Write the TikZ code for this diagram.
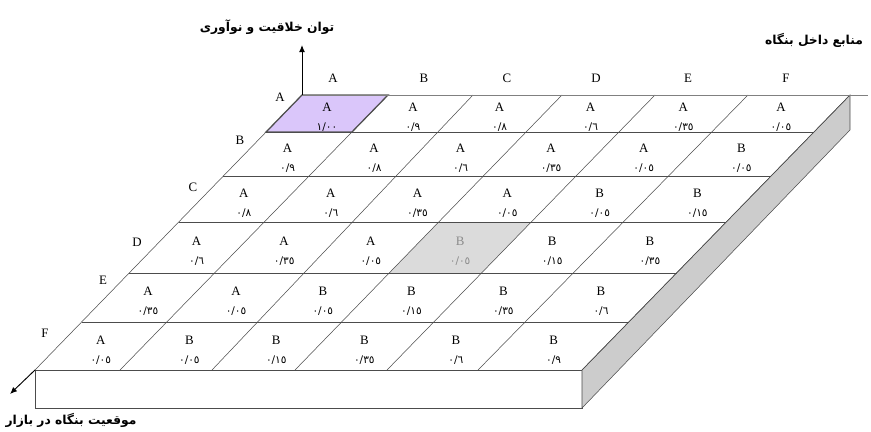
\documentclass[tikz,border=0pt]{standalone}
\usepackage{fontspec}
\setmainfont{Liberation Serif}
\newfontfamily\arabicfont[Script=Arabic]{DejaVu Sans}
\TeXXeTstate=1
\usetikzlibrary{calc,arrows.meta}
\definecolor{lilac}{RGB}{218,198,250}

\begin{document}
\begin{tikzpicture}[x=0.3mm,y=-0.3mm,
  edge/.style={draw=black!70,line width=0.45pt},
  hdr/.style={font=\fontsize{11}{12}\selectfont},
  val/.style={font=\arabicfont\fontsize{9}{10}\selectfont},
  axislbl/.style={font=\arabicfont\bfseries\fontsize{10.5}{12}\selectfont}]
\useasboundingbox (0,0) rectangle (871,431);
\def\topx{{302,388,473,562,655,748,850}}
\def\botx{{35,120,212,295,387,478,582}}
\def\rowy{{95,132,176,222,273,322,370}}
% column lines, top and bottom ends
\foreach \i in {0,...,6} {
  \pgfmathsetmacro\xt{\topx[\i]}
  \pgfmathsetmacro\xb{\botx[\i]}
  \coordinate (t\i) at (\xt,95);
  \coordinate (b\i) at (\xb,370);
}
% grid corners
\foreach \j in {0,...,6} {
  \pgfmathsetmacro\yy{\rowy[\j]}
  \pgfmathsetmacro\s{(\yy-95)/275}
  \foreach \i in {0,...,6} \coordinate (p\i-\j) at ($(t\i)!\s!(b\i)$);
}
\coordinate (topend) at (868,95);
\coordinate (sidetop) at (850,130);
\coordinate (sidebot) at (582,408);
\coordinate (frontbl) at (35,408);

% block under the board
\draw[edge,fill=white] (p0-6) -- (p6-6) -- (sidebot) -- (frontbl) -- cycle;
\draw[edge,fill=black!20] (p6-0) -- (sidetop) -- (sidebot) -- (p6-6) -- cycle;

% marked cells
\draw[fill=lilac,draw=black!65,line width=1.1pt] (p0-0) -- (p1-0) -- (p1-1) -- (p0-1) -- cycle;
\fill[black!14] (p3-3) -- (p4-3) -- (p4-4) -- (p3-4) -- cycle;

% grid
\foreach \i in {0,...,6} \draw[edge] (p\i-0) -- (p\i-6);
\foreach \j in {1,...,6} \draw[edge] (p0-\j) -- (p6-\j);
\draw[edge,draw=black!50,line width=0.8pt] (p0-0) -- (topend);

% axes
\coordinate (uptip) at (302,45);
\coordinate (lefttip) at (10,394);
\draw[-{Latex[length=6pt,width=5pt]},line width=0.8pt] (p0-0) -- (uptip);
\draw[-{Latex[length=6pt,width=5pt]},line width=0.8pt] (p0-6) -- (lefttip);
\node[axislbl] (creat) at (267,27) {\beginR توان خلاقیت و نوآوری\endR};
\node[axislbl] (inres) at (814,40) {\beginR منابع داخل بنگاه\endR};
\node[axislbl] (market) at (71,420) {\beginR موقعیت بنگاه در بازار\endR};

% headers
\foreach \x/\l in {333/A,424/B,507/C,596/D,688/E,786/F} \node[hdr] (col\l) at (\x,78) {\l};
\foreach \x/\y/\l in {280/97/A,240/140/B,193/187/C,137/242/D,103/280/E,45/333/F}
  \node[hdr] (row\l) at (\x,\y) {\l};

% cell contents: column/row/letter/number
\foreach \c/\r/\l/\u/\f in {
  1/1/A/١/٠٠, 2/1/A/٠/٩, 3/1/A/٠/٨, 4/1/A/٠/٦, 5/1/A/٠/٣٥, 6/1/A/٠/٠٥,
  1/2/A/٠/٩, 2/2/A/٠/٨, 3/2/A/٠/٦, 4/2/A/٠/٣٥, 5/2/A/٠/٠٥, 6/2/B/٠/٠٥,
  1/3/A/٠/٨, 2/3/A/٠/٦, 3/3/A/٠/٣٥, 4/3/A/٠/٠٥, 5/3/B/٠/٠٥, 6/3/B/٠/١٥,
  1/4/A/٠/٦, 2/4/A/٠/٣٥, 3/4/A/٠/٠٥, 5/4/B/٠/١٥, 6/4/B/٠/٣٥,
  1/5/A/٠/٣٥, 2/5/A/٠/٠٥, 3/5/B/٠/٠٥, 4/5/B/٠/١٥, 5/5/B/٠/٣٥, 6/5/B/٠/٦,
  1/6/A/٠/٠٥, 2/6/B/٠/٠٥, 3/6/B/٠/١٥, 4/6/B/٠/٣٥, 5/6/B/٠/٦, 6/6/B/٠/٩} {
  \pgfmathtruncatemacro\a{\c-1}
  \pgfmathtruncatemacro\b{\r-1}
  \node[hdr] (l\c-\r) at ($(p\a-\b)!0.5!(p\c-\r)+(0,-6)$) {\l};
  \node[val] (v\c-\r) at ($(p\a-\b)!0.5!(p\c-\r)+(0,14)$) {\u/\f};
}
\node[hdr,black!45] (l4-4) at ($(p3-3)!0.5!(p4-4)+(0,-6)$) {B};
\node[val,black!45] (v4-4) at ($(p3-3)!0.5!(p4-4)+(0,14)$) {٠/٠٥};
\end{tikzpicture}
\end{document}
